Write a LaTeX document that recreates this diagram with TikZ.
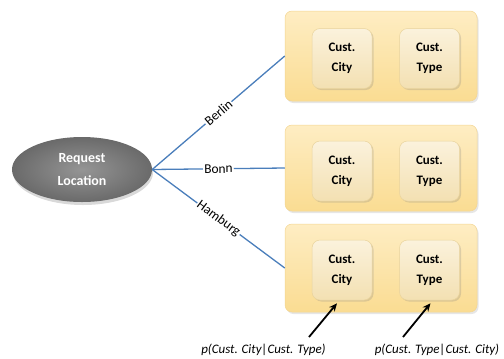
\documentclass[tikz,border=0pt]{standalone}
\usepackage{fontspec}
\setmainfont{Carlito}
\usepackage{xcolor}
\usetikzlibrary{arrows.meta, positioning, calc, shapes, shadows}

\definecolor{branchblue}{HTML}{4A7EBB}
\definecolor{rowtop}{HTML}{FEEDC3}
\definecolor{rowbot}{HTML}{FADC92}
\definecolor{rowedge}{HTML}{F3D591}
\definecolor{attrtop}{HTML}{FBF2DC}
\definecolor{attrbot}{HTML}{F3E0B2}
\definecolor{attredge}{HTML}{E9D39C}
\definecolor{reqin}{HTML}{959595}
\definecolor{reqout}{HTML}{6A6A6A}

\begin{document}
\begin{tikzpicture}[x=1bp, y=-1bp,
    cityrow/.style={draw=rowedge, line width=0.5bp, rounded corners=7bp,
        minimum width=192bp, top color=rowtop, bottom color=rowbot,
        drop shadow={shadow xshift=1.5bp, shadow yshift=-2bp, opacity=0.2}},
    attr/.style={draw=attredge, line width=0.5bp, rounded corners=8bp,
        minimum width=60bp, minimum height=60bp, top color=attrtop, bottom color=attrbot,
        align=center, font=\bfseries\fontsize{13}{20}\selectfont,
        drop shadow={shadow xshift=1.5bp, shadow yshift=-1.5bp, opacity=0.25}},
    branch/.style={draw=branchblue, line width=1.3bp},
    place/.style={sloped, fill=white, inner sep=1bp, font=\fontsize{13.5}{14}\selectfont},
    pointer/.style={-{Stealth[length=8bp, width=7bp]}, line width=1.8bp},
    problabel/.style={inner sep=0pt, font=\itshape\fontsize{13}{14}\selectfont}]

    \useasboundingbox (0,0) rectangle (504,358);

    % the request
    \node[ellipse, minimum width=140bp, minimum height=65bp, inner sep=0pt,
        shading=radial, inner color=reqin, outer color=reqout,
        drop shadow={shadow xshift=1bp, shadow yshift=-3bp, opacity=0.3},
        text=white, align=center, font=\bfseries\fontsize{14}{24}\selectfont]
        (req) at (82,169.5) {Request\\Location};

    % one row per city
    \node[cityrow, minimum height=90bp] (b1) at (381,56) {};
    \node[cityrow, minimum height=86bp] (b2) at (381,168) {};
    \node[cityrow, minimum height=88bp] (b3) at (381,268) {};

    \node[attr] (c1) at (342,58.5) {Cust.\\City};
    \node[attr] (t1) at (429.5,58.5) {Cust.\\Type};
    \node[attr] (c2) at (342,171) {Cust.\\City};
    \node[attr] (t2) at (429.5,171) {Cust.\\Type};
    \node[attr] (c3) at (342,270) {Cust.\\City};
    \node[attr] (t3) at (429.5,270) {Cust.\\Type};

    % branches
    \draw[branch] (req.east) -- node[place] {Berlin} (b1.west);
    \draw[branch] (req.east) -- node[place] {Bonn} (b2.west);
    \draw[branch] (req.east) -- node[place] {Hamburg} (b3.west);

    % conditional probabilities
    \node[problabel] (pcity) at (263.5,350) {p(Cust. City|Cust. Type)};
    \node[problabel] (ptype) at (437,350) {p(Cust. Type|Cust. City)};
    \coordinate (s1) at (309,337);
    \coordinate (s2) at (403,337);
    \draw[pointer] (s1) -- ([xshift=-5bp, yshift=-3bp]c3.south);
    \draw[pointer] (s2) -- ([xshift=1bp, yshift=-3bp]t3.south);
\end{tikzpicture}
\end{document}
